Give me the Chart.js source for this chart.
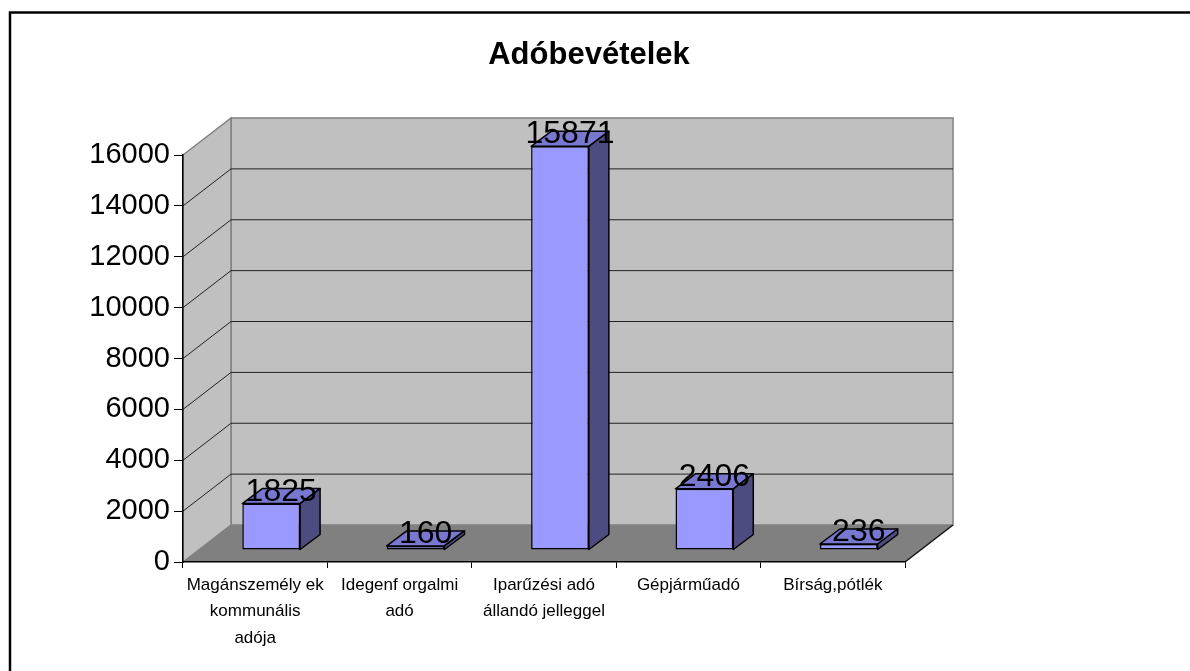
<!DOCTYPE html>
<html>
<head>
<meta charset="utf-8">
<script src="https://cdn.jsdelivr.net/npm/chart.js@4"></script>
<style>
  html, body { margin: 0; padding: 0; background: #fff; }
  #wrap { position: relative; width: 1190px; height: 671px; }
</style>
</head>
<body>
<div id="wrap"><canvas id="chart"></canvas></div>
<script>
// data
const TITLE = 'Adóbevételek';
const CATEGORIES = [
  ['Magánszemély ek', 'kommunális', 'adója'],
  ['Idegenf orgalmi', 'adó'],
  ['Iparűzési adó', 'állandó jelleggel'],
  ['Gépjárműadó'],
  ['Bírság,pótlék']
];
const VALUES = [1825, 160, 15871, 2406, 236];
const Y_TICKS = [0, 2000, 4000, 6000, 8000, 10000, 12000, 14000, 16000];

const FONT = '"Liberation Sans", Arial, sans-serif';
const WALL_FILL = '#C0C0C0';
const FLOOR_FILL = '#808080';
const EDGE = '#808080';
const GRID = '#222222';
const BAR_FRONT = '#9999FF';
const BAR_TOP = '#7878D0';
const BAR_SIDE = '#4C4C80';

// 3d offsets (pixels) of the fake depth
const WALL = { dx: 48, dy: -37 };
const SHIFT = { dx: 16, dy: -12 };
const BAR_DEPTH = { dx: 20, dy: -15 };

Chart.defaults.font.family = FONT;
Chart.defaults.color = '#000';

const poly = (ctx, pts, fill, stroke, lw) => {
  ctx.beginPath();
  ctx.moveTo(pts[0][0], pts[0][1]);
  pts.slice(1).forEach(p => ctx.lineTo(p[0], p[1]));
  ctx.closePath();
  if (fill) { ctx.fillStyle = fill; ctx.fill(); }
  if (stroke) { ctx.strokeStyle = stroke; ctx.lineWidth = lw || 1; ctx.stroke(); }
};

const box3d = {
  id: 'box3d',
  beforeDraw(chart) {
    const { ctx, chartArea: a, scales: { y } } = chart;
    const L = a.left, R = a.right, T = a.top, B = a.bottom;
    ctx.save();
    // outer frame
    ctx.strokeStyle = '#000';
    ctx.lineWidth = 2.5;
    ctx.strokeRect(10, 12.5, 1400, 900);
    // title
    ctx.fillStyle = '#000';
    ctx.font = 'bold 31px ' + FONT;
    ctx.textAlign = 'center';
    ctx.textBaseline = 'alphabetic';
    ctx.fillText(TITLE, 589, 64);

    // back wall
    poly(ctx, [[L + WALL.dx, T + WALL.dy], [R + WALL.dx, T + WALL.dy], [R + WALL.dx, B + WALL.dy], [L + WALL.dx, B + WALL.dy]], WALL_FILL, EDGE, 1.5);
    // left wall
    poly(ctx, [[L, T], [L + WALL.dx, T + WALL.dy], [L + WALL.dx, B + WALL.dy], [L, B]], WALL_FILL, EDGE, 1.5);
    // floor
    poly(ctx, [[L, B], [R, B], [R + WALL.dx, B + WALL.dy], [L + WALL.dx, B + WALL.dy]], FLOOR_FILL, null);
    ctx.beginPath();
    ctx.moveTo(R, B); ctx.lineTo(R + WALL.dx, B + WALL.dy);
    ctx.strokeStyle = '#111'; ctx.lineWidth = 1.5; ctx.stroke();

    // gridlines on the walls
    ctx.strokeStyle = GRID;
    ctx.lineWidth = 1;
    Y_TICKS.slice(1, -1).forEach(v => {
      const py = y.getPixelForValue(v);
      ctx.beginPath();
      ctx.moveTo(L, py);
      ctx.lineTo(L + WALL.dx, py + WALL.dy);
      ctx.lineTo(R + WALL.dx, py + WALL.dy);
      ctx.stroke();
    });
    ctx.restore();
  },
  beforeDatasetsDraw(chart) {
    const { ctx } = chart;
    const meta = chart.getDatasetMeta(0);
    ctx.save();
    ctx.lineJoin = 'round';
    meta.data.forEach(el => {
      const x = el.x + SHIFT.dx, top = el.y + SHIFT.dy, base = el.base + SHIFT.dy;
      const l = x - el.width / 2, r = x + el.width / 2;
      poly(ctx, [[l, top], [r, top], [r + BAR_DEPTH.dx, top + BAR_DEPTH.dy], [l + BAR_DEPTH.dx, top + BAR_DEPTH.dy]], BAR_TOP, '#000', 1.5);
      poly(ctx, [[r, top], [r + BAR_DEPTH.dx, top + BAR_DEPTH.dy], [r + BAR_DEPTH.dx, base + BAR_DEPTH.dy], [r, base]], BAR_SIDE, '#000', 1.5);
    });
    // front faces drawn by chart.js, moved to the bar plane
    ctx.translate(SHIFT.dx, SHIFT.dy);
  },
  afterDatasetsDraw(chart) {
    const { ctx } = chart;
    ctx.restore();
    const meta = chart.getDatasetMeta(0);
    ctx.save();
    ctx.fillStyle = '#000';
    ctx.font = '32px ' + FONT;
    ctx.textAlign = 'center';
    ctx.textBaseline = 'alphabetic';
    meta.data.forEach((el, i) => {
      ctx.fillText(String(VALUES[i]), el.x + SHIFT.dx + BAR_DEPTH.dx / 2, el.y + SHIFT.dy - 3);
    });
    ctx.restore();
  }
};

new Chart(document.getElementById('chart'), {
  type: 'bar',
  data: {
    labels: CATEGORIES,
    datasets: [{
      data: VALUES,
      backgroundColor: BAR_FRONT,
      borderColor: '#000',
      borderWidth: 1.5,
      borderSkipped: false,
      barPercentage: 0.4,
      categoryPercentage: 1.0,
      clip: false
    }]
  },
  options: {
    responsive: true,
    maintainAspectRatio: false,
    animation: false,
    layout: { padding: { top: 155, right: 285, bottom: 0, left: 0 } },
    plugins: {
      legend: { display: false },
      title: { display: false },
      tooltip: { enabled: false }
    },
    scales: {
      x: {
        afterFit: s => { s.height = 109; },
        grid: { offset: true, drawOnChartArea: false, tickLength: 6, color: '#000' },
        border: { color: '#000', width: 1.5 },
        ticks: { autoSkip: false, maxRotation: 0, padding: 4, font: { size: 17, lineHeight: 1.55 } }
      },
      y: {
        min: 0,
        max: 16000,
        afterFit: s => { s.width = 183; },
        afterBuildTicks: s => { s.ticks = Y_TICKS.map(v => ({ value: v })); },
        grid: { drawOnChartArea: false, tickLength: 9, color: '#000' },
        border: { color: '#000', width: 1.5 },
        ticks: { padding: 4, font: { size: 29 }, callback: v => String(v) }
      }
    }
  },
  plugins: [box3d]
});
</script>
</body>
</html>
